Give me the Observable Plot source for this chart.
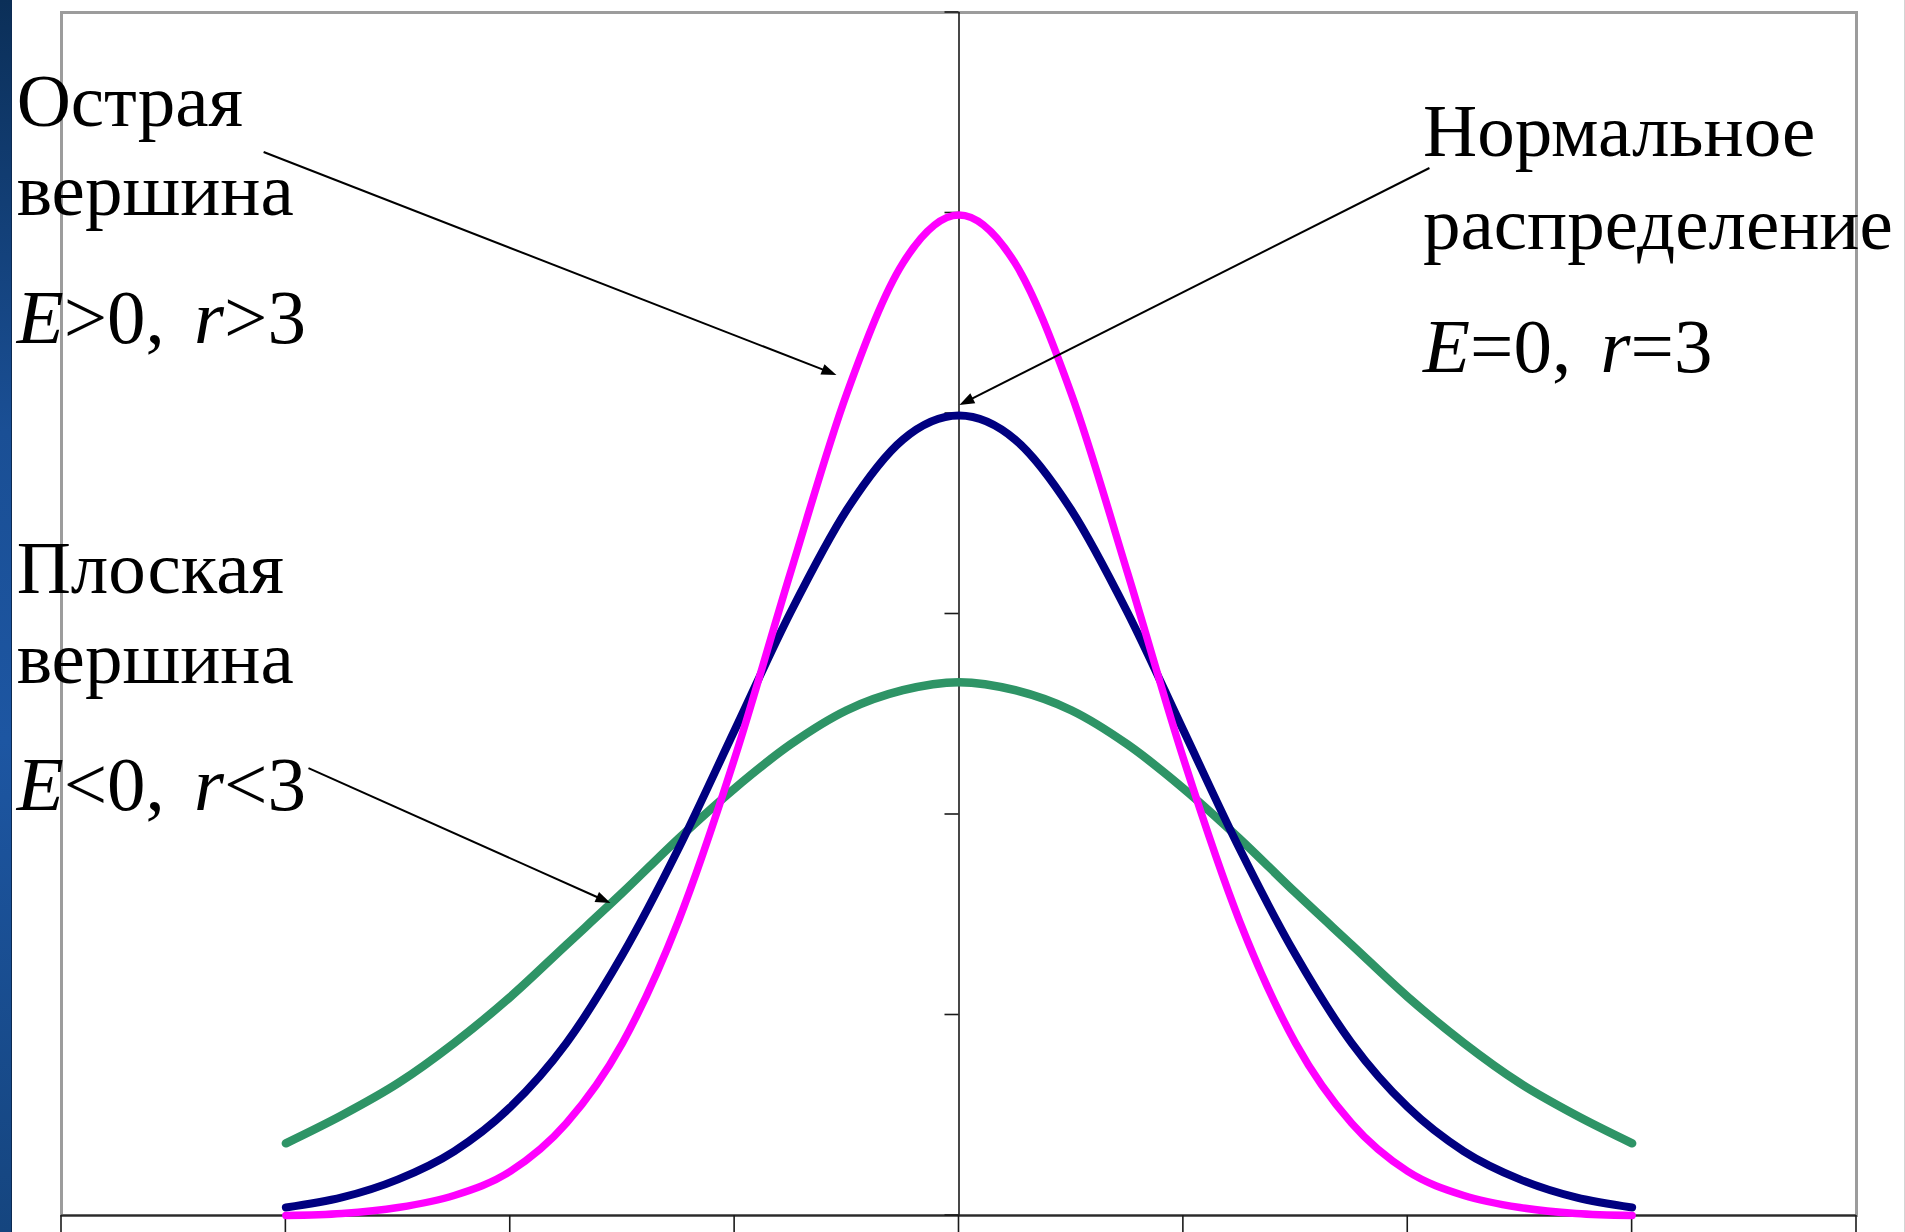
<!DOCTYPE html>
<html>
<head>
<meta charset="utf-8">
<script src="https://cdn.jsdelivr.net/npm/d3@7"></script>
<script src="https://cdn.jsdelivr.net/npm/@observablehq/plot@0.6"></script>
<style>
  html, body { margin: 0; padding: 0; background: #fff; }
  #wrap { position: relative; width: 1905px; height: 1232px; overflow: hidden; background: #fff; }
  #wrap svg { position: absolute; left: 0; top: 0; }
  #strip {
    position: absolute; left: 0; top: 0; width: 12px; height: 1232px;
    background: linear-gradient(to bottom, #0b2f58 0%, #1a4f95 35%, #1d56a2 60%, #15457f 100%);
    border-right: 1px solid #0c2a52;
    box-sizing: border-box;
  }
  #edge { position: absolute; right: 0; top: 0; width: 1px; height: 1232px; background: #d4d4d4; }
</style>
</head>
<body>
<div id="wrap"><div id="strip"></div><div id="edge"></div></div>
<script>
// Sample points along the horizontal axis
const xs = [-3, -2.75, -2.5, -2.25, -2, -1.75, -1.5, -1.25, -1, -0.75, -0.5, -0.25, 0,
            0.25, 0.5, 0.75, 1, 1.25, 1.5, 1.75, 2, 2.25, 2.5, 2.75, 3];

// Sharp peak (E > 0)
const peaked = [0.000, 0.001, 0.004, 0.010, 0.022, 0.046, 0.086, 0.147, 0.228, 0.321, 0.410, 0.475, 0.499,
                0.475, 0.410, 0.321, 0.228, 0.147, 0.086, 0.046, 0.022, 0.010, 0.004, 0.001, 0.000];

// Normal distribution (E = 0)
const normal = [0.004, 0.009, 0.018, 0.032, 0.054, 0.086, 0.130, 0.183, 0.242, 0.301, 0.352, 0.387, 0.399,
                0.387, 0.352, 0.301, 0.242, 0.183, 0.130, 0.086, 0.054, 0.032, 0.018, 0.009, 0.004];

// Flat peak (E < 0)
const flat = [0.036, 0.050, 0.066, 0.086, 0.109, 0.135, 0.161, 0.188, 0.213, 0.235, 0.252, 0.262, 0.266,
              0.262, 0.252, 0.235, 0.213, 0.188, 0.161, 0.135, 0.109, 0.086, 0.066, 0.050, 0.036];

const xTicks = [-4, -3, -2, -1, 0, 1, 2, 3, 4];
const yTicks = [0, 0.1, 0.2, 0.3, 0.4, 0.5, 0.6];

// Annotation text and where it sits (data units, baseline of each line)
const labels = [
  {text: "Острая", x: -4.2, y: 0.5435},
  {text: "вершина", x: -4.2, y: 0.4988},
  {text: "Плоская", x: -4.2, y: 0.3103},
  {text: "вершина", x: -4.2, y: 0.2654},
  {text: "Нормальное", x: 2.068, y: 0.5285},
  {text: "распределение", x: 2.068, y: 0.4818}
];
const formulas = [
  {text: "E>0, r>3", x: -4.2, y: 0.4350},
  {text: "E<0, r<3", x: -4.2, y: 0.2020},
  {text: "E=0, r=3", x: 2.068, y: 0.4206}
];

// Leader arrows from the labels to the curves (data units)
const arrows = [
  {x1: -3.097, y1: 0.5302, x2: -0.544, y2: 0.4190},
  {x1: 2.099, y1: 0.5222, x2: 0.004, y2: 0.4040},
  {x1: -2.897, y1: 0.2229, x2: -1.551, y2: 0.1556}
];

const rows = (values) => xs.map((x, i) => ({x, y: values[i]}));

// Axis ticks drawn through the plot's own scales
function axisTicks(index, {x, y}) {
  const g = d3.create("svg:g").attr("stroke", "#1a1a1a");
  const x0 = x(0), y0 = y(0);
  for (const t of yTicks) {
    g.append("line").attr("x1", x0 - 14).attr("x2", x0).attr("y1", y(t)).attr("y2", y(t)).attr("stroke-width", 1.6);
  }
  for (const t of xTicks) {
    g.append("line").attr("x1", x(t)).attr("x2", x(t)).attr("y1", y0).attr("y2", y0 + 20).attr("stroke-width", 1.6);
  }
  return g.node();
}

// Thin leader lines with filled arrowheads
function leaders(index, {x, y}) {
  const g = d3.create("svg:g");
  const L = 15, W = 5.5;
  for (const a of arrows) {
    const x1 = x(a.x1), y1 = y(a.y1), x2 = x(a.x2), y2 = y(a.y2);
    const ang = Math.atan2(y2 - y1, x2 - x1);
    const c = Math.cos(ang), s = Math.sin(ang);
    const bx = x2 - L * c, by = y2 - L * s;
    g.append("line")
      .attr("x1", x1).attr("y1", y1).attr("x2", bx + 2 * c).attr("y2", by + 2 * s)
      .attr("stroke", "#000").attr("stroke-width", 2);
    g.append("path")
      .attr("d", `M${x2},${y2}L${bx - W * s},${by + W * c}L${bx + W * s},${by - W * c}Z`)
      .attr("fill", "#000");
  }
  return g.node();
}

const serif = "'Liberation Serif', 'Times New Roman', Times, serif";
const lineStyle = {x: "x", y: "y", strokeLinejoin: "round", strokeLinecap: "round", curve: "monotone-x"};

const chart = Plot.plot({
  width: 1905,
  height: 1232,
  marginLeft: 61,
  marginRight: 49,
  marginTop: 12,
  marginBottom: 17,
  x: {domain: [-4, 4], axis: null},
  y: {domain: [0, 0.6], axis: null},
  style: {background: "transparent"},
  marks: [
    Plot.frame({stroke: "#9c9c9c", strokeWidth: 3}),
    Plot.ruleX([0], {stroke: "#1a1a1a", strokeWidth: 1.6}),
    Plot.ruleY([0], {stroke: "#2a2a2a", strokeWidth: 2.2}),
    axisTicks,
    Plot.line(rows(flat), {...lineStyle, stroke: "#2e9466", strokeWidth: 8.5}),
    Plot.line(rows(normal), {...lineStyle, stroke: "#000080", strokeWidth: 8}),
    Plot.line(rows(peaked), {...lineStyle, stroke: "#ff00ff", strokeWidth: 7.5}),
    leaders,
    Plot.text(labels, {
      x: "x", y: "y", text: "text",
      textAnchor: "start", lineAnchor: "bottom",
      fontFamily: serif, fontSize: 75, fill: "#000"
    }),
    Plot.text(formulas, {
      x: "x", y: "y", text: "text",
      textAnchor: "start", lineAnchor: "bottom",
      fontFamily: serif, fontSize: 77, fill: "#000"
    })
  ]
});

// Italicise the variable names in the formula labels and widen the gap after the comma
const formulaText = formulas.map(d => d.text);
d3.select(chart).selectAll("text").each(function () {
  const s = this.textContent;
  if (!formulaText.includes(s)) return;
  this.textContent = "";
  for (const part of s.split(/([Er])/)) {
    if (!part) continue;
    const t = document.createElementNS("http://www.w3.org/2000/svg", "tspan");
    t.textContent = part;
    if (part === "E" || part === "r") t.setAttribute("font-style", "italic");
    if (part === "r") t.setAttribute("dx", "10");
    this.appendChild(t);
  }
});

document.getElementById("wrap").insertBefore(chart, document.getElementById("strip"));
</script>
</body>
</html>
